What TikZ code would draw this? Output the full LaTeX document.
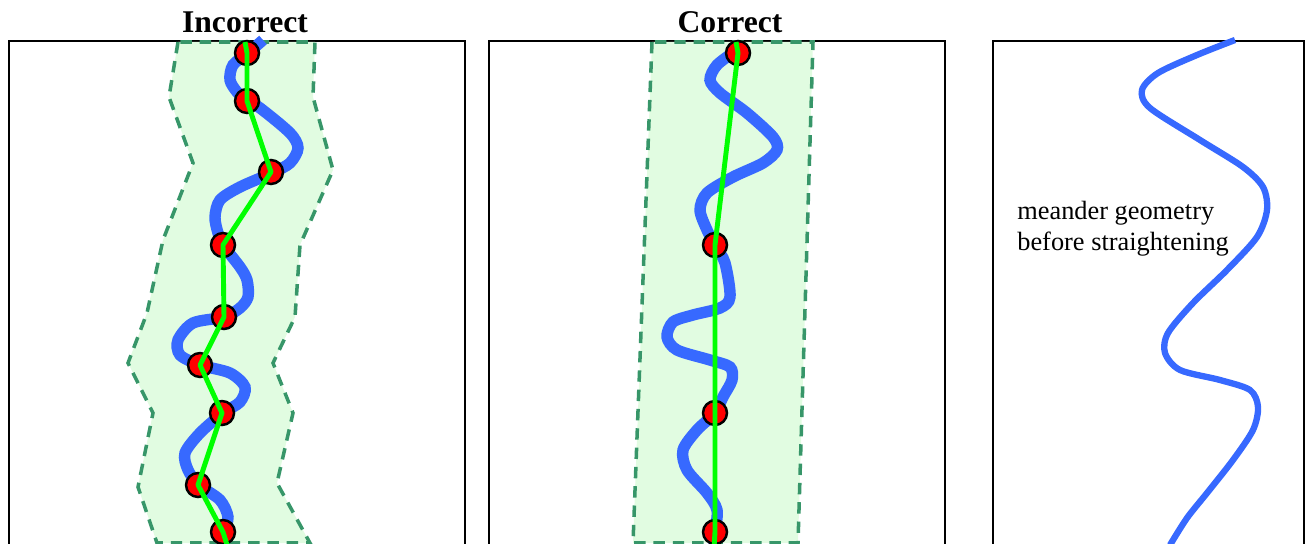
\documentclass[tikz,border=0pt]{standalone}
\usepackage{fontspec}
\setmainfont{Liberation Serif}

\definecolor{meanderblue}{RGB}{55,105,255}
\definecolor{corridorfill}{RGB}{225,252,225}
\definecolor{corridoredge}{RGB}{55,150,105}
\definecolor{axisgreen}{RGB}{0,255,0}

\begin{document}
\begin{tikzpicture}[x=0.02cm, y=-0.02cm,
  panel/.style={draw=black, line width=1.1pt},
  corridor/.style={fill=corridorfill, draw=corridoredge, line width=2pt, dash pattern=on 6.5pt off 4.5pt},
  river/.style={draw=meanderblue, line width=6.5pt},
  thinriver/.style={draw=meanderblue, line width=3.6pt},
  vertex/.style={circle, fill=red, draw=black, line width=1.4pt, minimum size=0.48cm, inner sep=0pt},
  axis/.style={draw=axisgreen, line width=2.8pt, line join=round},
  title/.style={font=\bfseries\fontsize{18}{20}\selectfont, anchor=base, inner sep=0pt}]

\useasboundingbox (0,0) rectangle (1305,544);
\clip (0,0) rectangle (1305,544);

% Incorrect
\draw[panel] (9,41) rectangle (465,570);
\node[title] (titleincorrect) at (245,33) {Incorrect};
\draw[corridor] (178,42) -- (169,97) -- (193,163) -- (163,240) -- (147,313) -- (128,363)
  -- (153,413) -- (138,487) -- (157,543) -- (310,543) -- (277,483) -- (293,413)
  -- (273,363) -- (295,317) -- (300,245) -- (333,170) -- (313,97) -- (315,42) -- cycle;
\draw[river] plot[smooth] coordinates {(263,40) (248,53) (233,65) (230,80) (237,92) (247,101)
  (260,108) (290,133) (298,148) (290,163) (272,173) (240,187) (220,200) (215,217)
  (218,233) (223,245) (240,267) (247,280) (248,297) (240,308) (224,317) (193,323)
  (178,340) (180,355) (200,365) (230,373) (245,387) (240,402) (223,413) (200,433)
  (185,453) (188,470) (199,485) (220,500) (228,517) (224,533) (224,560)};
\node[vertex] (a1) at (247,53) {};
\node[vertex] (a2) at (247,101) {};
\node[vertex] (a3) at (271,172) {};
\node[vertex] (a4) at (223,245) {};
\node[vertex] (a5) at (224,317) {};
\node[vertex] (a6) at (200,365) {};
\node[vertex] (a7) at (222,413) {};
\node[vertex] (a8) at (198,485) {};
\node[vertex] (a9) at (223,532) {};
\coordinate (atop) at (245,42);
\coordinate (abot) at (228,548);
\draw[axis] (atop) -- (a1.center) -- (a2.center) -- (a3.center) -- (a4.center) -- (a5.center)
  -- (a6.center) -- (a7.center) -- (a8.center) -- (a9.center) -- (abot);

% Correct
\draw[panel] (489,41) rectangle (945,570);
\node[title] (titlecorrect) at (730,33) {Correct};
\draw[corridor] (652,42) -- (633,543) -- (798,543) -- (813,42) -- cycle;
\draw[river] plot[smooth] coordinates {(737,50) (717,65) (710,80) (720,93) (747,113)
  (773,137) (777,150) (763,163) (733,177) (707,193) (700,210) (707,230) (715,245)
  (725,263) (730,297) (720,308) (693,315) (673,322) (667,337) (677,350) (710,360)
  (730,367) (732,380) (723,397) (715,413) (697,430) (683,450) (687,470) (707,493)
  (717,510) (715,533) (713,560)};
\node[vertex] (b1) at (738,53) {};
\node[vertex] (b2) at (715,245) {};
\node[vertex] (b3) at (715,413) {};
\node[vertex] (b4) at (715,532) {};
\coordinate (btop) at (736,42);
\coordinate (bbot) at (714,548);
\draw[axis] (btop) -- (b1.center) -- (b2.center) -- (b3.center) -- (b4.center) -- (bbot);

% Meander only
\draw[panel] (993,41) rectangle (1304,570);
\draw[thinriver] plot[smooth] coordinates {(1235,40) (1197,55) (1158,73) (1142,90) (1150,108)
  (1200,140) (1243,167) (1263,187) (1267,210) (1257,237) (1227,270) (1193,303)
  (1168,333) (1165,353) (1180,370) (1220,380) (1250,390) (1258,407) (1253,430)
  (1233,460) (1207,493) (1187,518) (1170,545)};
\node[anchor=west, align=left, inner sep=0pt, font=\fontsize{15}{17.5}\selectfont] (caption)
  at (1017,229) {meander geometry\\before straightening};

\end{tikzpicture}
\end{document}
